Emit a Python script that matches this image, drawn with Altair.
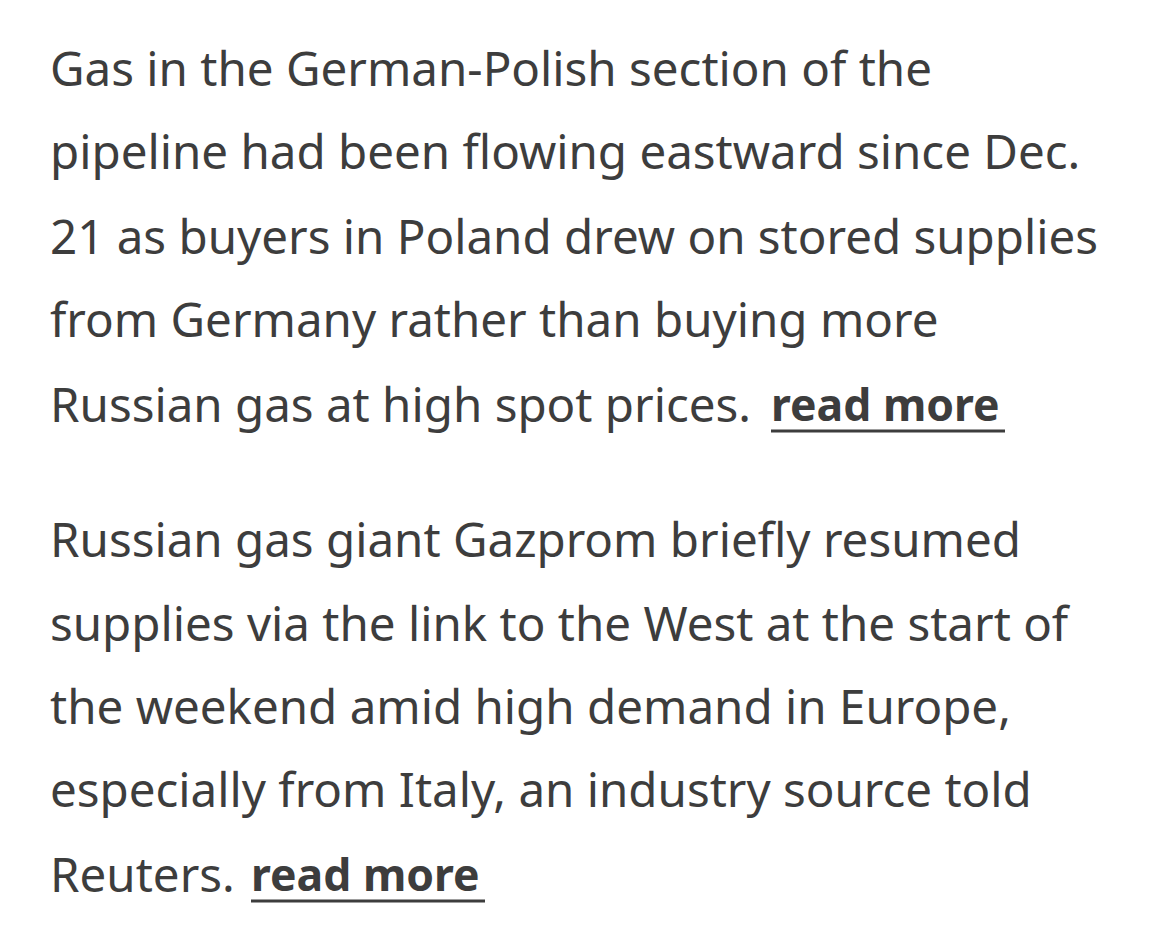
import altair as alt
import pandas as pd

# paragraph text, one entry per rendered line
lines = [
    "Gas in the German-Polish section of the",
    "pipeline had been flowing eastward since Dec.",
    "21 as buyers in Poland drew on stored supplies",
    "from Germany rather than buying more",
    "Russian gas at high spot prices.",
    "Russian gas giant Gazprom briefly resumed",
    "supplies via the link to the West at the start of",
    "the weekend amid high demand in Europe,",
    "especially from Italy, an industry source told",
    "Reuters.",
]
line_y = [72, 155, 240, 323, 408, 543, 627, 710, 793, 878]

links = ["read more", "read more"]
link_y = [408, 878]
link_x0 = [771, 251]
link_x1 = [1005, 485]

# page has an 8px margin
off = 8
text_df = pd.DataFrame({"text": lines, "x": [50 - off] * len(lines),
                        "y": [v - off for v in line_y]})
link_df = pd.DataFrame({"text": links, "x": [v - off for v in link_x0],
                        "x2": [v - off for v in link_x1],
                        "y": [v - off for v in link_y]})
link_df["uy"] = link_df["y"] + 23

font = "Noto Sans"
color = "#3d3d3d"
size = 47.5

body = alt.Chart(text_df).mark_text(
    align="left", baseline="middle", font=font, fontSize=size, color=color
).encode(
    x=alt.X("x:Q", scale=None), y=alt.Y("y:Q", scale=None), text="text:N"
)

link = alt.Chart(link_df).mark_text(
    align="left", baseline="middle", font=font, fontSize=size - 3,
    fontWeight="bold", color=color
).encode(
    x=alt.X("x:Q", scale=None), y=alt.Y("y:Q", scale=None), text="text:N"
)

underline = alt.Chart(link_df).mark_rule(color=color, strokeWidth=3).encode(
    x=alt.X("x:Q", scale=None), x2="x2:Q", y=alt.Y("uy:Q", scale=None)
)

chart = alt.layer(body, link, underline).properties(
    width=1154, height=923, autosize=alt.AutoSizeParams(type="none"), padding=0
).configure_view(stroke=None)

chart.save("out.html", embed_options={"renderer": "svg", "actions": False})
